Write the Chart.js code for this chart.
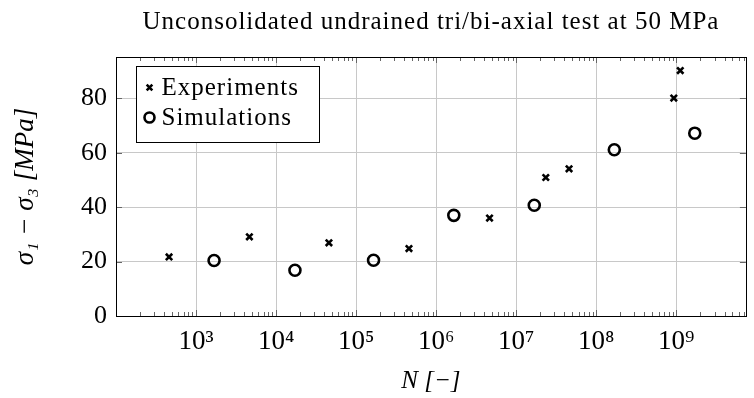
<!DOCTYPE html>
<html>
<head>
<meta charset="utf-8">
<script src="https://cdn.jsdelivr.net/npm/chart.js@4.4.1/dist/chart.umd.min.js"></script>
<style>
  html, body { margin: 0; padding: 0; background: #fff; }
</style>
</head>
<body>
<canvas id="grafico" width="754" height="398"></canvas>
<script>
const titulo = 'Unconsolidated undrained tri/bi-axial test at 50 MPa';

// ensaios (x) e simulações (o)
const expN = [460, 4640, 45700, 457000, 4.64e6, 2.34e7, 4.57e7, 9.3e8, 1.12e9];
const expTensao = [21.7, 29.1, 26.9, 24.8, 36.0, 50.9, 54.1, 80.1, 90.2];
const simN = [1680, 17200, 165000, 1.66e6, 1.68e7, 1.68e8, 1.7e9];
const simTensao = [20.4, 16.8, 20.5, 37.0, 40.7, 61.1, 67.2];

const xTicks = [1e3, 1e4, 1e5, 1e6, 1e7, 1e8, 1e9];
const xTickLabels = ['10³', '10⁴', '10⁵', '10⁶', '10⁷', '10⁸', '10⁹'];
const yTicks = [0, 20, 40, 60, 80];

const serif = "'Liberation Serif', 'Times New Roman', serif";

const toPontos = (xs, ys) => xs.map((x, i) => ({ x, y: ys[i] }));

// moldura, marcas internas, título e legenda
const molduraPlugin = {
  id: 'moldura',
  beforeDatasetsDraw(chart) {
    const { ctx, chartArea: a, scales: { x, y } } = chart;
    ctx.save();
    ctx.strokeStyle = '#666';
    ctx.lineWidth = 1;
    ctx.beginPath();
    for (let k = 2; k <= 9; k++) {
      for (let m = 1; m <= 9; m++) {
        const v = m * Math.pow(10, k);
        if (v < x.min || v > x.max) continue;
        const px = Math.round(x.getPixelForValue(v)) + 0.5;
        const len = m === 1 ? 6 : 4;
        ctx.moveTo(px, a.bottom); ctx.lineTo(px, a.bottom - len);
        ctx.moveTo(px, a.top); ctx.lineTo(px, a.top + len);
      }
    }
    yTicks.forEach(v => {
      const py = Math.round(y.getPixelForValue(v)) + 0.5;
      ctx.moveTo(a.left, py); ctx.lineTo(a.left + 6, py);
      ctx.moveTo(a.right, py); ctx.lineTo(a.right - 6, py);
    });
    ctx.stroke();
    ctx.strokeStyle = '#000';
    ctx.strokeRect(Math.round(a.left) + 0.5, Math.round(a.top) + 0.5,
      Math.round(a.right - a.left), Math.round(a.bottom - a.top));
    ctx.restore();
  },
  afterDraw(chart) {
    const { ctx, chartArea: a } = chart;
    ctx.save();
    ctx.fillStyle = '#000';
    ctx.font = `25px ${serif}`;
    ctx.letterSpacing = '1px';
    ctx.textAlign = 'center';
    ctx.textBaseline = 'middle';
    ctx.fillText(titulo, (a.left + a.right) / 2, 22);

    // legenda
    const lx = Math.round(a.left) + 20.5, ly = Math.round(a.top) + 9.5;
    ctx.fillStyle = '#fff';
    ctx.fillRect(lx, ly, 183, 76);
    ctx.strokeStyle = '#000';
    ctx.lineWidth = 1;
    ctx.strokeRect(lx, ly, 183, 76);
    chart.data.datasets.forEach((ds, i) => {
      const cy = ly + 21 + i * 30;
      ctx.strokeStyle = '#000';
      ctx.fillStyle = '#fff';
      ctx.lineWidth = ds.borderWidth;
      Chart.helpers.drawPoint(ctx, {
        pointStyle: ds.pointStyle, radius: ds.pointRadius - 0.5, borderWidth: ds.borderWidth, rotation: 0
      }, lx + 13, cy);
      ctx.fillStyle = '#000';
      ctx.font = `25px ${serif}`;
      ctx.letterSpacing = '1px';
      ctx.textAlign = 'left';
      ctx.textBaseline = 'middle';
      ctx.fillText(ds.label, lx + 25, cy + 1);
    });
    ctx.restore();
  }
};

new Chart(document.getElementById('grafico'), {
  type: 'scatter',
  data: {
    datasets: [
      {
        label: 'Experiments',
        data: toPontos(expN, expTensao),
        pointStyle: 'crossRot',
        pointRadius: 4.5,
        borderWidth: 2.6,
        borderColor: '#000',
        backgroundColor: '#000'
      },
      {
        label: 'Simulations',
        data: toPontos(simN, simTensao),
        pointStyle: 'circle',
        pointRadius: 5.5,
        borderWidth: 2.6,
        borderColor: '#000',
        backgroundColor: 'rgba(255,255,255,0)'
      }
    ]
  },
  options: {
    responsive: false,
    animation: false,
    layout: { padding: { top: 57, right: 2, left: 0, bottom: 0 } },
    plugins: {
      legend: { display: false },
      tooltip: { enabled: false }
    },
    scales: {
      x: {
        type: 'logarithmic',
        min: 100,
        max: 7.4e9,
        afterBuildTicks: s => { s.ticks = xTicks.map(v => ({ value: v })); },
        afterFit: s => { s.height = 82; },
        ticks: {
          callback: (v, i) => xTickLabels[i],
          autoSkip: false,
          maxRotation: 0,
          padding: 10,
          color: '#000',
          font: { family: serif, size: 27 }
        },
        grid: { color: '#c8c8c8', drawTicks: false },
        border: { display: false },
        title: {
          display: true,
          text: 'N [−]',
          color: '#000',
          padding: { top: 0, bottom: 2 },
          font: { family: serif, size: 25, style: 'italic' }
        }
      },
      y: {
        min: 0,
        max: 95.2,
        afterBuildTicks: s => { s.ticks = yTicks.map(v => ({ value: v })); },
        afterFit: s => { s.width = 116; },
        ticks: {
          padding: 9,
          color: '#000',
          font: { family: serif, size: 26 }
        },
        grid: {
          color: c => (c.tick && c.tick.value === 0 ? 'rgba(0,0,0,0)' : '#c8c8c8'),
          drawTicks: false
        },
        border: { display: false },
        title: {
          display: true,
          text: 'σ₁ − σ₃ [MPa]',
          color: '#000',
          padding: { top: 10, bottom: 0 },
          font: { family: serif, size: 27, style: 'italic' }
        }
      }
    }
  },
  plugins: [molduraPlugin]
});
</script>
</body>
</html>
